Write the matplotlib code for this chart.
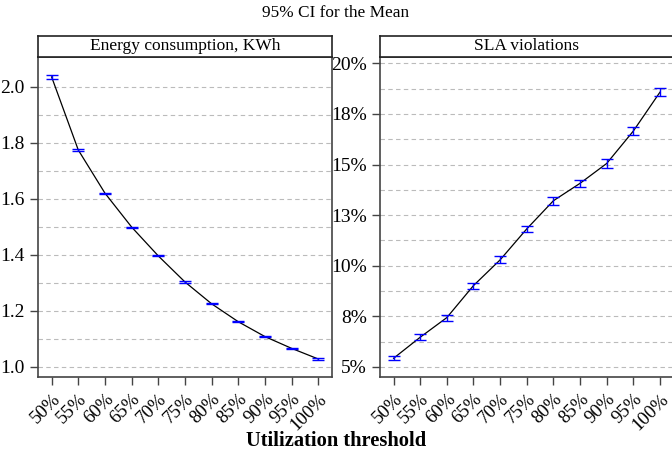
import numpy as np
import matplotlib.pyplot as plt
from matplotlib.ticker import FixedLocator

plt.rcParams['font.family'] = ['Liberation Serif', 'DejaVu Serif']

thresholds = ['50%', '55%', '60%', '65%', '70%', '75%', '80%', '85%', '90%', '95%', '100%']

energy_mean = [2.035, 1.774, 1.620, 1.499, 1.396, 1.303, 1.225, 1.161, 1.108, 1.066, 1.028]
energy_ci = [0.0085, 0.004, 0.002, 0.002, 0.002, 0.002, 0.002, 0.002, 0.002, 0.002, 0.002]

sla_mean = [0.0543, 0.0647, 0.0744, 0.0902, 0.1029, 0.1182, 0.1321, 0.1407, 0.1505, 0.1665, 0.1857]
sla_ci = [0.001, 0.0015, 0.0015, 0.0015, 0.0017, 0.0016, 0.002, 0.0017, 0.002, 0.0021, 0.002]

energy_ticks = [1.0, 1.2, 1.4, 1.6, 1.8, 2.0]
sla_ticks = [0.05, 0.075, 0.10, 0.125, 0.15, 0.175, 0.20]
sla_labels = ['5%', '8%', '10%', '13%', '15%', '18%', '20%']

W, H = 672, 453
fig = plt.figure(figsize=(W / 100, H / 100), dpi=100)

def panel(x0, x1, y_top, y_strip, y_bot):
    ax = fig.add_axes([x0 / W, 1 - y_bot / H, (x1 - x0) / W, (y_bot - y_strip) / H])
    strip = fig.add_axes([x0 / W, 1 - y_strip / H, (x1 - x0) / W, (y_strip - y_top) / H])
    strip.set_xticks([])
    strip.set_yticks([])
    for s in strip.spines.values():
        s.set_linewidth(1.2)
        s.set_color('#222222')
    return ax, strip

def draw(ax, strip, mean, ci, title, ticks, minor):
    x = np.arange(len(thresholds))
    ax.plot(x, mean, color='black', lw=0.9, zorder=3)
    ax.errorbar(x, mean, yerr=ci, fmt='none', ecolor='#0000ff', elinewidth=1.0,
                capsize=4, capthick=1.0, zorder=4)
    ax.set_xlim(-0.51, len(x) - 0.49)
    ax.set_xticks(x)
    ax.set_xticklabels(thresholds, rotation=45, ha='right', rotation_mode='anchor', fontsize=13.5)
    ax.set_yticks(ticks)
    ax.yaxis.set_minor_locator(FixedLocator(minor))
    ax.tick_params(axis='y', which='minor', length=0)
    ax.tick_params(axis='both', which='major', length=6, width=1.0, labelsize=14, color='#444444')
    ax.tick_params(axis='x', labelsize=13.5, pad=4)
    ax.grid(True, which='both', axis='y', color='#bbbbbb', ls=(0, (4, 3)), lw=0.8)
    ax.set_axisbelow(True)
    for s in ax.spines.values():
        s.set_linewidth(1.2)
        s.set_color('#444444')
    strip.text(0.5, 0.5, title, ha='center', va='center', fontsize=12.5, transform=strip.transAxes)

ax1, st1 = panel(38, 332, 35.5, 57, 376.7)
draw(ax1, st1, energy_mean, energy_ci, 'Energy consumption, KWh', energy_ticks,
     [1.1, 1.3, 1.5, 1.7, 1.9])
ax1.set_ylim(0.965, 2.106)

ax2, st2 = panel(380, 673.5, 35.5, 57, 376.7)
draw(ax2, st2, sla_mean, sla_ci, 'SLA violations', sla_ticks,
     [0.0625, 0.0875, 0.1125, 0.1375, 0.1625, 0.1875])
ax2.set_yticklabels(sla_labels)
ax2.set_ylim(0.0452, 0.2031)

fig.text(0.5, 1 - 13 / H, '95% CI for the Mean', ha='center', va='center', fontsize=12.4)
fig.text(0.5, 1 - 441 / H, 'Utilization threshold', ha='center', va='center',
         fontsize=14.8, fontweight='bold')

fig.savefig('out.png', dpi=100)
